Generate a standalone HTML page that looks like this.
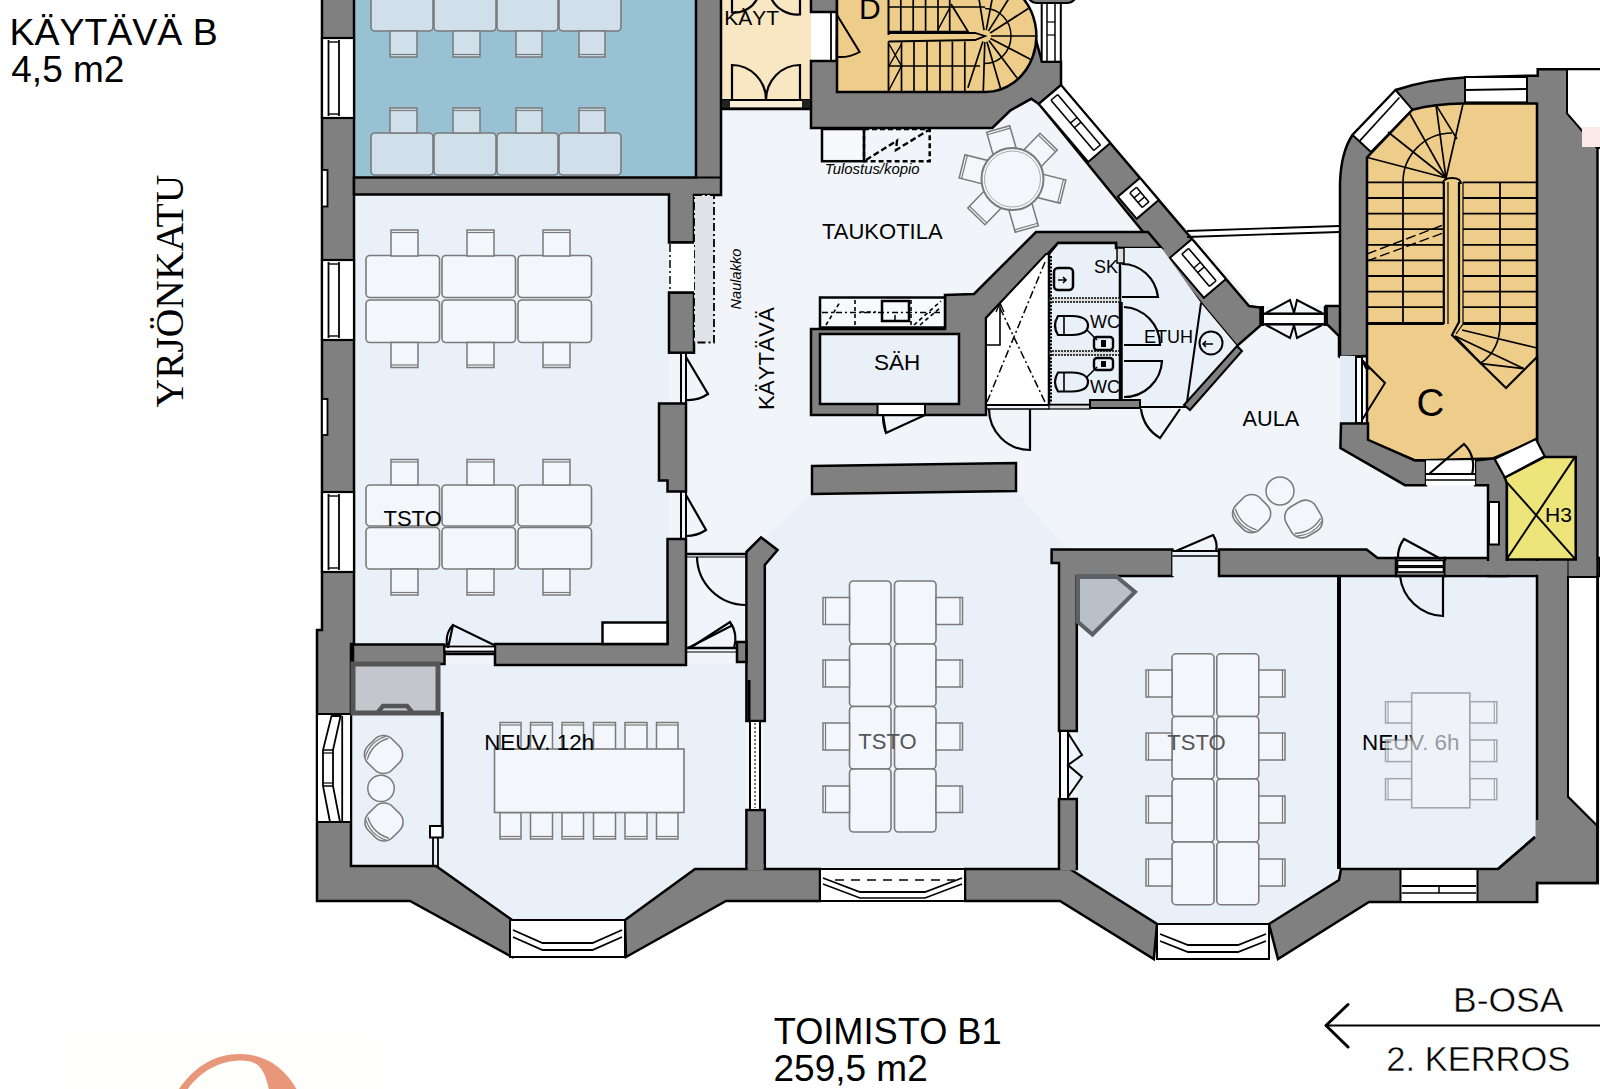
<!DOCTYPE html>
<html><head><meta charset="utf-8"><style>html,body{margin:0;padding:0;background:#fff;width:1600px;height:1089px;overflow:hidden}svg{display:block}</style></head>
<body><svg width="1600" height="1089" viewBox="0 0 1600 1089">
<polygon points="354.0,0.0 1061.0,0.0 1061.0,85.0 1256.0,306.0 1340.0,306.0 1340.0,448.0 1405.0,485.0 1488.0,485.0 1488.0,576.0 1600.0,576.0 1600.0,883.0 1537.0,883.0 1537.0,902.0 1369.0,902.0 1278.0,959.0 1153.0,959.0 1060.0,901.0 726.0,901.0 626.0,957.0 510.0,957.0 410.0,901.0 317.0,901.0 317.0,630.0 322.0,630.0 322.0,0.0" fill="#f1f5fa" stroke="none" stroke-width="0" stroke-linejoin="miter" />
<rect x="354.0" y="0.0" width="342.0" height="177.5" rx="0" fill="#99c1d4" stroke="none" stroke-width="0" />
<defs><linearGradient id="kg" x1="0" x2="1" y1="0" y2="0"><stop offset="0" stop-color="#f6dcaa"/><stop offset="1" stop-color="#fbecd3"/></linearGradient></defs>
<rect x="721.0" y="0.0" width="90.0" height="108.0" rx="0" fill="#f9e6c3" stroke="none" stroke-width="0" />
<rect x="354.0" y="194.0" width="315.0" height="450.0" rx="0" fill="#e9f0f8" stroke="none" stroke-width="0" />
<polygon points="351.0,664.0 685.0,664.0 746.0,664.0 746.0,869.0 695.0,869.0 625.0,920.0 510.0,920.0 436.0,866.0 351.0,866.0" fill="#e9f0f8" stroke="none" stroke-width="0" stroke-linejoin="miter" />
<polygon points="812.0,494.0 1016.0,491.0 1066.0,548.0 1060.0,548.0 1060.0,869.0 764.0,869.0 764.0,538.0" fill="#e9f0f8" stroke="none" stroke-width="0" stroke-linejoin="miter" />
<polygon points="1077.0,575.0 1337.0,575.0 1337.0,880.0 1269.0,924.0 1157.0,924.0 1070.0,869.0 1077.0,869.0" fill="#e9f0f8" stroke="none" stroke-width="0" stroke-linejoin="miter" />
<polygon points="1341.0,575.0 1535.0,575.0 1535.0,837.0 1498.0,869.0 1341.0,869.0" fill="#e9f0f8" stroke="none" stroke-width="0" stroke-linejoin="miter" />
<rect x="371.0" y="-12.0" width="62.0" height="43.0" rx="4" fill="#cfe0ea" stroke="#7a7a7a" stroke-width="1.6" />
<rect x="371.0" y="133.0" width="62.0" height="42.0" rx="4" fill="#cfe0ea" stroke="#7a7a7a" stroke-width="1.6" />
<rect x="434.0" y="-12.0" width="62.0" height="43.0" rx="4" fill="#cfe0ea" stroke="#7a7a7a" stroke-width="1.6" />
<rect x="434.0" y="133.0" width="62.0" height="42.0" rx="4" fill="#cfe0ea" stroke="#7a7a7a" stroke-width="1.6" />
<rect x="497.0" y="-12.0" width="61.0" height="43.0" rx="4" fill="#cfe0ea" stroke="#7a7a7a" stroke-width="1.6" />
<rect x="497.0" y="133.0" width="61.0" height="42.0" rx="4" fill="#cfe0ea" stroke="#7a7a7a" stroke-width="1.6" />
<rect x="559.0" y="-12.0" width="62.0" height="43.0" rx="4" fill="#cfe0ea" stroke="#7a7a7a" stroke-width="1.6" />
<rect x="559.0" y="133.0" width="62.0" height="42.0" rx="4" fill="#cfe0ea" stroke="#7a7a7a" stroke-width="1.6" />
<rect x="390.0" y="31.0" width="27.0" height="26.0" rx="0" fill="#cfe0ea" stroke="#7a7a7a" stroke-width="1.5" />
<line x1="390.0" y1="54.5" x2="417.0" y2="54.5" stroke="#7a7a7a" stroke-width="1.2" />
<rect x="390.0" y="108.0" width="27.0" height="25.0" rx="0" fill="#cfe0ea" stroke="#7a7a7a" stroke-width="1.5" />
<line x1="390.0" y1="110.5" x2="417.0" y2="110.5" stroke="#7a7a7a" stroke-width="1.2" />
<rect x="453.0" y="31.0" width="27.0" height="26.0" rx="0" fill="#cfe0ea" stroke="#7a7a7a" stroke-width="1.5" />
<line x1="453.0" y1="54.5" x2="480.0" y2="54.5" stroke="#7a7a7a" stroke-width="1.2" />
<rect x="453.0" y="108.0" width="27.0" height="25.0" rx="0" fill="#cfe0ea" stroke="#7a7a7a" stroke-width="1.5" />
<line x1="453.0" y1="110.5" x2="480.0" y2="110.5" stroke="#7a7a7a" stroke-width="1.2" />
<rect x="516.0" y="31.0" width="26.0" height="26.0" rx="0" fill="#cfe0ea" stroke="#7a7a7a" stroke-width="1.5" />
<line x1="516.0" y1="54.5" x2="542.0" y2="54.5" stroke="#7a7a7a" stroke-width="1.2" />
<rect x="516.0" y="108.0" width="26.0" height="25.0" rx="0" fill="#cfe0ea" stroke="#7a7a7a" stroke-width="1.5" />
<line x1="516.0" y1="110.5" x2="542.0" y2="110.5" stroke="#7a7a7a" stroke-width="1.2" />
<rect x="579.0" y="31.0" width="26.0" height="26.0" rx="0" fill="#cfe0ea" stroke="#7a7a7a" stroke-width="1.5" />
<line x1="579.0" y1="54.5" x2="605.0" y2="54.5" stroke="#7a7a7a" stroke-width="1.2" />
<rect x="579.0" y="108.0" width="26.0" height="25.0" rx="0" fill="#cfe0ea" stroke="#7a7a7a" stroke-width="1.5" />
<line x1="579.0" y1="110.5" x2="605.0" y2="110.5" stroke="#7a7a7a" stroke-width="1.2" />
<rect x="366.0" y="255.5" width="73.5" height="42.0" rx="4" fill="#f3f6fb" stroke="#7a7a7a" stroke-width="1.6" />
<rect x="442.0" y="255.5" width="73.5" height="42.0" rx="4" fill="#f3f6fb" stroke="#7a7a7a" stroke-width="1.6" />
<rect x="518.0" y="255.5" width="73.5" height="42.0" rx="4" fill="#f3f6fb" stroke="#7a7a7a" stroke-width="1.6" />
<rect x="366.0" y="300.0" width="73.5" height="42.5" rx="4" fill="#f3f6fb" stroke="#7a7a7a" stroke-width="1.6" />
<rect x="442.0" y="300.0" width="73.5" height="42.5" rx="4" fill="#f3f6fb" stroke="#7a7a7a" stroke-width="1.6" />
<rect x="518.0" y="300.0" width="73.5" height="42.5" rx="4" fill="#f3f6fb" stroke="#7a7a7a" stroke-width="1.6" />
<rect x="366.0" y="485.0" width="73.5" height="41.0" rx="4" fill="#f3f6fb" stroke="#7a7a7a" stroke-width="1.6" />
<rect x="442.0" y="485.0" width="73.5" height="41.0" rx="4" fill="#f3f6fb" stroke="#7a7a7a" stroke-width="1.6" />
<rect x="518.0" y="485.0" width="73.5" height="41.0" rx="4" fill="#f3f6fb" stroke="#7a7a7a" stroke-width="1.6" />
<rect x="366.0" y="527.5" width="73.5" height="41.5" rx="4" fill="#f3f6fb" stroke="#7a7a7a" stroke-width="1.6" />
<rect x="442.0" y="527.5" width="73.5" height="41.5" rx="4" fill="#f3f6fb" stroke="#7a7a7a" stroke-width="1.6" />
<rect x="518.0" y="527.5" width="73.5" height="41.5" rx="4" fill="#f3f6fb" stroke="#7a7a7a" stroke-width="1.6" />
<rect x="391.0" y="230.0" width="27.0" height="26.0" rx="0" fill="#f3f6fb" stroke="#7a7a7a" stroke-width="1.5" />
<line x1="391.0" y1="232.5" x2="418.0" y2="232.5" stroke="#7a7a7a" stroke-width="1.2" />
<rect x="391.0" y="342.5" width="27.0" height="25.0" rx="0" fill="#f3f6fb" stroke="#7a7a7a" stroke-width="1.5" />
<line x1="391.0" y1="365.0" x2="418.0" y2="365.0" stroke="#7a7a7a" stroke-width="1.2" />
<rect x="391.0" y="459.5" width="27.0" height="25.5" rx="0" fill="#f3f6fb" stroke="#7a7a7a" stroke-width="1.5" />
<line x1="391.0" y1="462.0" x2="418.0" y2="462.0" stroke="#7a7a7a" stroke-width="1.2" />
<rect x="391.0" y="569.0" width="27.0" height="26.0" rx="0" fill="#f3f6fb" stroke="#7a7a7a" stroke-width="1.5" />
<line x1="391.0" y1="592.5" x2="418.0" y2="592.5" stroke="#7a7a7a" stroke-width="1.2" />
<rect x="467.0" y="230.0" width="27.0" height="26.0" rx="0" fill="#f3f6fb" stroke="#7a7a7a" stroke-width="1.5" />
<line x1="467.0" y1="232.5" x2="494.0" y2="232.5" stroke="#7a7a7a" stroke-width="1.2" />
<rect x="467.0" y="342.5" width="27.0" height="25.0" rx="0" fill="#f3f6fb" stroke="#7a7a7a" stroke-width="1.5" />
<line x1="467.0" y1="365.0" x2="494.0" y2="365.0" stroke="#7a7a7a" stroke-width="1.2" />
<rect x="467.0" y="459.5" width="27.0" height="25.5" rx="0" fill="#f3f6fb" stroke="#7a7a7a" stroke-width="1.5" />
<line x1="467.0" y1="462.0" x2="494.0" y2="462.0" stroke="#7a7a7a" stroke-width="1.2" />
<rect x="467.0" y="569.0" width="27.0" height="26.0" rx="0" fill="#f3f6fb" stroke="#7a7a7a" stroke-width="1.5" />
<line x1="467.0" y1="592.5" x2="494.0" y2="592.5" stroke="#7a7a7a" stroke-width="1.2" />
<rect x="543.0" y="230.0" width="27.0" height="26.0" rx="0" fill="#f3f6fb" stroke="#7a7a7a" stroke-width="1.5" />
<line x1="543.0" y1="232.5" x2="570.0" y2="232.5" stroke="#7a7a7a" stroke-width="1.2" />
<rect x="543.0" y="342.5" width="27.0" height="25.0" rx="0" fill="#f3f6fb" stroke="#7a7a7a" stroke-width="1.5" />
<line x1="543.0" y1="365.0" x2="570.0" y2="365.0" stroke="#7a7a7a" stroke-width="1.2" />
<rect x="543.0" y="459.5" width="27.0" height="25.5" rx="0" fill="#f3f6fb" stroke="#7a7a7a" stroke-width="1.5" />
<line x1="543.0" y1="462.0" x2="570.0" y2="462.0" stroke="#7a7a7a" stroke-width="1.2" />
<rect x="543.0" y="569.0" width="27.0" height="26.0" rx="0" fill="#f3f6fb" stroke="#7a7a7a" stroke-width="1.5" />
<line x1="543.0" y1="592.5" x2="570.0" y2="592.5" stroke="#7a7a7a" stroke-width="1.2" />
<rect x="500.0" y="722.5" width="21.0" height="27.5" rx="0" fill="#f3f6fb" stroke="#7a7a7a" stroke-width="1.5" />
<line x1="500.0" y1="725.0" x2="521.0" y2="725.0" stroke="#7a7a7a" stroke-width="1.2" />
<rect x="500.0" y="812.5" width="21.0" height="26.5" rx="0" fill="#f3f6fb" stroke="#7a7a7a" stroke-width="1.5" />
<line x1="500.0" y1="836.5" x2="521.0" y2="836.5" stroke="#7a7a7a" stroke-width="1.2" />
<rect x="530.5" y="722.5" width="22.0" height="27.5" rx="0" fill="#f3f6fb" stroke="#7a7a7a" stroke-width="1.5" />
<line x1="530.5" y1="725.0" x2="552.5" y2="725.0" stroke="#7a7a7a" stroke-width="1.2" />
<rect x="530.5" y="812.5" width="22.0" height="26.5" rx="0" fill="#f3f6fb" stroke="#7a7a7a" stroke-width="1.5" />
<line x1="530.5" y1="836.5" x2="552.5" y2="836.5" stroke="#7a7a7a" stroke-width="1.2" />
<rect x="562.0" y="722.5" width="21.5" height="27.5" rx="0" fill="#f3f6fb" stroke="#7a7a7a" stroke-width="1.5" />
<line x1="562.0" y1="725.0" x2="583.5" y2="725.0" stroke="#7a7a7a" stroke-width="1.2" />
<rect x="562.0" y="812.5" width="21.5" height="26.5" rx="0" fill="#f3f6fb" stroke="#7a7a7a" stroke-width="1.5" />
<line x1="562.0" y1="836.5" x2="583.5" y2="836.5" stroke="#7a7a7a" stroke-width="1.2" />
<rect x="593.5" y="722.5" width="22.0" height="27.5" rx="0" fill="#f3f6fb" stroke="#7a7a7a" stroke-width="1.5" />
<line x1="593.5" y1="725.0" x2="615.5" y2="725.0" stroke="#7a7a7a" stroke-width="1.2" />
<rect x="593.5" y="812.5" width="22.0" height="26.5" rx="0" fill="#f3f6fb" stroke="#7a7a7a" stroke-width="1.5" />
<line x1="593.5" y1="836.5" x2="615.5" y2="836.5" stroke="#7a7a7a" stroke-width="1.2" />
<rect x="625.0" y="722.5" width="22.0" height="27.5" rx="0" fill="#f3f6fb" stroke="#7a7a7a" stroke-width="1.5" />
<line x1="625.0" y1="725.0" x2="647.0" y2="725.0" stroke="#7a7a7a" stroke-width="1.2" />
<rect x="625.0" y="812.5" width="22.0" height="26.5" rx="0" fill="#f3f6fb" stroke="#7a7a7a" stroke-width="1.5" />
<line x1="625.0" y1="836.5" x2="647.0" y2="836.5" stroke="#7a7a7a" stroke-width="1.2" />
<rect x="656.5" y="722.5" width="21.5" height="27.5" rx="0" fill="#f3f6fb" stroke="#7a7a7a" stroke-width="1.5" />
<line x1="656.5" y1="725.0" x2="678.0" y2="725.0" stroke="#7a7a7a" stroke-width="1.2" />
<rect x="656.5" y="812.5" width="21.5" height="26.5" rx="0" fill="#f3f6fb" stroke="#7a7a7a" stroke-width="1.5" />
<line x1="656.5" y1="836.5" x2="678.0" y2="836.5" stroke="#7a7a7a" stroke-width="1.2" />
<rect x="849.5" y="581.0" width="41.5" height="63.0" rx="4" fill="#f3f6fb" stroke="#7a7a7a" stroke-width="1.6" />
<rect x="894.5" y="581.0" width="41.5" height="63.0" rx="4" fill="#f3f6fb" stroke="#7a7a7a" stroke-width="1.6" />
<rect x="849.5" y="644.0" width="41.5" height="62.5" rx="4" fill="#f3f6fb" stroke="#7a7a7a" stroke-width="1.6" />
<rect x="894.5" y="644.0" width="41.5" height="62.5" rx="4" fill="#f3f6fb" stroke="#7a7a7a" stroke-width="1.6" />
<rect x="849.5" y="706.5" width="41.5" height="62.5" rx="4" fill="#f3f6fb" stroke="#7a7a7a" stroke-width="1.6" />
<rect x="894.5" y="706.5" width="41.5" height="62.5" rx="4" fill="#f3f6fb" stroke="#7a7a7a" stroke-width="1.6" />
<rect x="849.5" y="769.0" width="41.5" height="63.0" rx="4" fill="#f3f6fb" stroke="#7a7a7a" stroke-width="1.6" />
<rect x="894.5" y="769.0" width="41.5" height="63.0" rx="4" fill="#f3f6fb" stroke="#7a7a7a" stroke-width="1.6" />
<rect x="823.0" y="597.5" width="26.5" height="27.0" rx="0" fill="#f3f6fb" stroke="#7a7a7a" stroke-width="1.5" />
<line x1="825.5" y1="597.5" x2="825.5" y2="624.5" stroke="#7a7a7a" stroke-width="1.2" />
<rect x="936.0" y="597.5" width="26.5" height="27.0" rx="0" fill="#f3f6fb" stroke="#7a7a7a" stroke-width="1.5" />
<line x1="960.0" y1="597.5" x2="960.0" y2="624.5" stroke="#7a7a7a" stroke-width="1.2" />
<rect x="823.0" y="660.0" width="26.5" height="27.0" rx="0" fill="#f3f6fb" stroke="#7a7a7a" stroke-width="1.5" />
<line x1="825.5" y1="660.0" x2="825.5" y2="687.0" stroke="#7a7a7a" stroke-width="1.2" />
<rect x="936.0" y="660.0" width="26.5" height="27.0" rx="0" fill="#f3f6fb" stroke="#7a7a7a" stroke-width="1.5" />
<line x1="960.0" y1="660.0" x2="960.0" y2="687.0" stroke="#7a7a7a" stroke-width="1.2" />
<rect x="823.0" y="723.0" width="26.5" height="27.0" rx="0" fill="#f3f6fb" stroke="#7a7a7a" stroke-width="1.5" />
<line x1="825.5" y1="723.0" x2="825.5" y2="750.0" stroke="#7a7a7a" stroke-width="1.2" />
<rect x="936.0" y="723.0" width="26.5" height="27.0" rx="0" fill="#f3f6fb" stroke="#7a7a7a" stroke-width="1.5" />
<line x1="960.0" y1="723.0" x2="960.0" y2="750.0" stroke="#7a7a7a" stroke-width="1.2" />
<rect x="823.0" y="786.0" width="26.5" height="26.5" rx="0" fill="#f3f6fb" stroke="#7a7a7a" stroke-width="1.5" />
<line x1="825.5" y1="786.0" x2="825.5" y2="812.5" stroke="#7a7a7a" stroke-width="1.2" />
<rect x="936.0" y="786.0" width="26.5" height="26.5" rx="0" fill="#f3f6fb" stroke="#7a7a7a" stroke-width="1.5" />
<line x1="960.0" y1="786.0" x2="960.0" y2="812.5" stroke="#7a7a7a" stroke-width="1.2" />
<rect x="1172.0" y="653.8" width="42.0" height="62.8" rx="4" fill="#f3f6fb" stroke="#7a7a7a" stroke-width="1.6" />
<rect x="1216.8" y="653.8" width="42.0" height="62.8" rx="4" fill="#f3f6fb" stroke="#7a7a7a" stroke-width="1.6" />
<rect x="1172.0" y="716.5" width="42.0" height="62.5" rx="4" fill="#f3f6fb" stroke="#7a7a7a" stroke-width="1.6" />
<rect x="1216.8" y="716.5" width="42.0" height="62.5" rx="4" fill="#f3f6fb" stroke="#7a7a7a" stroke-width="1.6" />
<rect x="1172.0" y="779.0" width="42.0" height="63.0" rx="4" fill="#f3f6fb" stroke="#7a7a7a" stroke-width="1.6" />
<rect x="1216.8" y="779.0" width="42.0" height="63.0" rx="4" fill="#f3f6fb" stroke="#7a7a7a" stroke-width="1.6" />
<rect x="1172.0" y="842.0" width="42.0" height="62.7" rx="4" fill="#f3f6fb" stroke="#7a7a7a" stroke-width="1.6" />
<rect x="1216.8" y="842.0" width="42.0" height="62.7" rx="4" fill="#f3f6fb" stroke="#7a7a7a" stroke-width="1.6" />
<rect x="1146.0" y="670.0" width="26.0" height="27.0" rx="0" fill="#f3f6fb" stroke="#7a7a7a" stroke-width="1.5" />
<line x1="1148.5" y1="670.0" x2="1148.5" y2="697.0" stroke="#7a7a7a" stroke-width="1.2" />
<rect x="1258.8" y="670.0" width="26.2" height="27.0" rx="0" fill="#f3f6fb" stroke="#7a7a7a" stroke-width="1.5" />
<line x1="1282.5" y1="670.0" x2="1282.5" y2="697.0" stroke="#7a7a7a" stroke-width="1.2" />
<rect x="1146.0" y="733.0" width="26.0" height="27.0" rx="0" fill="#f3f6fb" stroke="#7a7a7a" stroke-width="1.5" />
<line x1="1148.5" y1="733.0" x2="1148.5" y2="760.0" stroke="#7a7a7a" stroke-width="1.2" />
<rect x="1258.8" y="733.0" width="26.2" height="27.0" rx="0" fill="#f3f6fb" stroke="#7a7a7a" stroke-width="1.5" />
<line x1="1282.5" y1="733.0" x2="1282.5" y2="760.0" stroke="#7a7a7a" stroke-width="1.2" />
<rect x="1146.0" y="796.0" width="26.0" height="27.0" rx="0" fill="#f3f6fb" stroke="#7a7a7a" stroke-width="1.5" />
<line x1="1148.5" y1="796.0" x2="1148.5" y2="823.0" stroke="#7a7a7a" stroke-width="1.2" />
<rect x="1258.8" y="796.0" width="26.2" height="27.0" rx="0" fill="#f3f6fb" stroke="#7a7a7a" stroke-width="1.5" />
<line x1="1282.5" y1="796.0" x2="1282.5" y2="823.0" stroke="#7a7a7a" stroke-width="1.2" />
<rect x="1146.0" y="859.0" width="26.0" height="27.0" rx="0" fill="#f3f6fb" stroke="#7a7a7a" stroke-width="1.5" />
<line x1="1148.5" y1="859.0" x2="1148.5" y2="886.0" stroke="#7a7a7a" stroke-width="1.2" />
<rect x="1258.8" y="859.0" width="26.2" height="27.0" rx="0" fill="#f3f6fb" stroke="#7a7a7a" stroke-width="1.5" />
<line x1="1282.5" y1="859.0" x2="1282.5" y2="886.0" stroke="#7a7a7a" stroke-width="1.2" />
<text x="1362" y="750" font-family="Liberation Sans" font-size="22.4" fill="#000" >NEUV. 6h</text>
<g opacity="0.62">
<rect x="1385.5" y="701.7" width="26.2" height="21.3" rx="0" fill="#f3f6fb" stroke="#7a7a7a" stroke-width="1.5" />
<line x1="1388.0" y1="701.7" x2="1388.0" y2="723.0" stroke="#7a7a7a" stroke-width="1.2" />
<rect x="1469.8" y="701.7" width="27.0" height="21.3" rx="0" fill="#f3f6fb" stroke="#7a7a7a" stroke-width="1.5" />
<line x1="1494.3" y1="701.7" x2="1494.3" y2="723.0" stroke="#7a7a7a" stroke-width="1.2" />
<rect x="1385.5" y="740.0" width="26.2" height="21.6" rx="0" fill="#f3f6fb" stroke="#7a7a7a" stroke-width="1.5" />
<line x1="1388.0" y1="740.0" x2="1388.0" y2="761.6" stroke="#7a7a7a" stroke-width="1.2" />
<rect x="1469.8" y="740.0" width="27.0" height="21.6" rx="0" fill="#f3f6fb" stroke="#7a7a7a" stroke-width="1.5" />
<line x1="1494.3" y1="740.0" x2="1494.3" y2="761.6" stroke="#7a7a7a" stroke-width="1.2" />
<rect x="1385.5" y="778.7" width="26.2" height="21.0" rx="0" fill="#f3f6fb" stroke="#7a7a7a" stroke-width="1.5" />
<line x1="1388.0" y1="778.7" x2="1388.0" y2="799.7" stroke="#7a7a7a" stroke-width="1.2" />
<rect x="1469.8" y="778.7" width="27.0" height="21.0" rx="0" fill="#f3f6fb" stroke="#7a7a7a" stroke-width="1.5" />
<line x1="1494.3" y1="778.7" x2="1494.3" y2="799.7" stroke="#7a7a7a" stroke-width="1.2" />
<rect x="1411.7" y="693.0" width="58.1" height="114.8" rx="0" fill="#f3f6fb" stroke="#7a7a7a" stroke-width="1.6" />
</g>
<text x="858.3" y="749" font-family="Liberation Sans" font-size="22" fill="#555" >TSTO</text>
<text x="1167.3" y="750" font-family="Liberation Sans" font-size="22" fill="#555" >TSTO</text>
<rect x="494.5" y="749.0" width="189.5" height="63.5" rx="0" fill="#f3f6fb" stroke="#7a7a7a" stroke-width="1.6" />
<g transform="translate(1012.5,179) rotate(14)"><rect x="29" y="-12" width="23" height="24" fill="#f3f6fb" stroke="#7a7a7a" stroke-width="1.5"/><line x1="49.5" y1="-12" x2="49.5" y2="12" stroke="#7a7a7a" stroke-width="1.2"/></g>
<g transform="translate(1012.5,179) rotate(74)"><rect x="29" y="-12" width="23" height="24" fill="#f3f6fb" stroke="#7a7a7a" stroke-width="1.5"/><line x1="49.5" y1="-12" x2="49.5" y2="12" stroke="#7a7a7a" stroke-width="1.2"/></g>
<g transform="translate(1012.5,179) rotate(134)"><rect x="29" y="-12" width="23" height="24" fill="#f3f6fb" stroke="#7a7a7a" stroke-width="1.5"/><line x1="49.5" y1="-12" x2="49.5" y2="12" stroke="#7a7a7a" stroke-width="1.2"/></g>
<g transform="translate(1012.5,179) rotate(194)"><rect x="29" y="-12" width="23" height="24" fill="#f3f6fb" stroke="#7a7a7a" stroke-width="1.5"/><line x1="49.5" y1="-12" x2="49.5" y2="12" stroke="#7a7a7a" stroke-width="1.2"/></g>
<g transform="translate(1012.5,179) rotate(254)"><rect x="29" y="-12" width="23" height="24" fill="#f3f6fb" stroke="#7a7a7a" stroke-width="1.5"/><line x1="49.5" y1="-12" x2="49.5" y2="12" stroke="#7a7a7a" stroke-width="1.2"/></g>
<g transform="translate(1012.5,179) rotate(314)"><rect x="29" y="-12" width="23" height="24" fill="#f3f6fb" stroke="#7a7a7a" stroke-width="1.5"/><line x1="49.5" y1="-12" x2="49.5" y2="12" stroke="#7a7a7a" stroke-width="1.2"/></g>
<circle cx="1012.5" cy="179" r="31" fill="#f3f6fb" stroke="#7a7a7a" stroke-width="2"/>
<circle cx="1012.5" cy="179" r="28" fill="none" stroke="#aaa" stroke-width="1"/>
<g transform="translate(383.5,754.5) rotate(135)"><rect x="-17" y="-17" width="34" height="34" rx="12" fill="#f3f6fb" stroke="#7a7a7a" stroke-width="1.6"/><path d="M-15,8 Q0,16 15,8" fill="none" stroke="#7a7a7a" stroke-width="1.4"/><path d="M-15,11 Q0,19 15,11" fill="none" stroke="#7a7a7a" stroke-width="1.2"/></g>
<g transform="translate(384,822) rotate(45)"><rect x="-17" y="-17" width="34" height="34" rx="12" fill="#f3f6fb" stroke="#7a7a7a" stroke-width="1.6"/><path d="M-15,8 Q0,16 15,8" fill="none" stroke="#7a7a7a" stroke-width="1.4"/><path d="M-15,11 Q0,19 15,11" fill="none" stroke="#7a7a7a" stroke-width="1.2"/></g>
<circle cx="381" cy="788.4" r="13.2" fill="#f3f6fb" stroke="#7a7a7a" stroke-width="1.5"/>
<g transform="translate(1251.6,513.6) rotate(45)"><rect x="-17" y="-17" width="34" height="34" rx="12" fill="#f3f6fb" stroke="#7a7a7a" stroke-width="1.6"/><path d="M-15,8 Q0,16 15,8" fill="none" stroke="#7a7a7a" stroke-width="1.4"/><path d="M-15,11 Q0,19 15,11" fill="none" stroke="#7a7a7a" stroke-width="1.2"/></g>
<g transform="translate(1303.6,519) rotate(-30)"><rect x="-17" y="-17" width="34" height="34" rx="12" fill="#f3f6fb" stroke="#7a7a7a" stroke-width="1.6"/><path d="M-15,8 Q0,16 15,8" fill="none" stroke="#7a7a7a" stroke-width="1.4"/><path d="M-15,11 Q0,19 15,11" fill="none" stroke="#7a7a7a" stroke-width="1.2"/></g>
<circle cx="1280" cy="491" r="14" fill="#f3f6fb" stroke="#7a7a7a" stroke-width="1.5"/>
<polygon points="322.0,-5.0 354.0,-5.0 354.0,644.0 351.0,644.0 351.0,866.0 436.0,866.0 512.0,920.0 512.0,957.0 410.0,901.0 317.0,901.0 317.0,630.0 322.0,630.0" fill="#808080" stroke="#000" stroke-width="2.5" stroke-linejoin="miter" />
<rect x="322.0" y="38.0" width="32.0" height="80.0" rx="0" fill="#fff" stroke="#000" stroke-width="2.2" />
<line x1="328.5" y1="40.0" x2="328.5" y2="116.0" stroke="#000" stroke-width="1.8" />
<line x1="339.0" y1="40.0" x2="339.0" y2="116.0" stroke="#000" stroke-width="1.8" />
<line x1="328.5" y1="42.0" x2="339.0" y2="42.0" stroke="#000" stroke-width="1.4" />
<line x1="328.5" y1="114.0" x2="339.0" y2="114.0" stroke="#000" stroke-width="1.4" />
<rect x="322.0" y="260.0" width="32.0" height="80.0" rx="0" fill="#fff" stroke="#000" stroke-width="2.2" />
<line x1="328.5" y1="262.0" x2="328.5" y2="338.0" stroke="#000" stroke-width="1.8" />
<line x1="339.0" y1="262.0" x2="339.0" y2="338.0" stroke="#000" stroke-width="1.8" />
<line x1="328.5" y1="264.0" x2="339.0" y2="264.0" stroke="#000" stroke-width="1.4" />
<line x1="328.5" y1="336.0" x2="339.0" y2="336.0" stroke="#000" stroke-width="1.4" />
<rect x="322.0" y="492.0" width="32.0" height="80.0" rx="0" fill="#fff" stroke="#000" stroke-width="2.2" />
<line x1="328.5" y1="494.0" x2="328.5" y2="570.0" stroke="#000" stroke-width="1.8" />
<line x1="339.0" y1="494.0" x2="339.0" y2="570.0" stroke="#000" stroke-width="1.8" />
<line x1="328.5" y1="496.0" x2="339.0" y2="496.0" stroke="#000" stroke-width="1.4" />
<line x1="328.5" y1="568.0" x2="339.0" y2="568.0" stroke="#000" stroke-width="1.4" />
<rect x="322.0" y="170.0" width="5.5" height="36.5" rx="0" fill="#fff" stroke="#000" stroke-width="1.8" />
<rect x="322.0" y="399.0" width="5.5" height="36.0" rx="0" fill="#fff" stroke="#000" stroke-width="1.8" />
<rect x="317.0" y="714.0" width="34.0" height="108.0" rx="0" fill="#fff" stroke="#000" stroke-width="2" />
<polygon points="331.5,716.0 323.0,750.0 323.0,786.0 330.0,822.0 340.0,822.0 333.0,786.0 333.0,750.0 340.6,716.0" fill="#fff" stroke="#000" stroke-width="1.8" stroke-linejoin="miter" />
<line x1="323.0" y1="750.0" x2="333.0" y2="750.0" stroke="#000" stroke-width="1.5" />
<line x1="323.0" y1="753.0" x2="333.0" y2="753.0" stroke="#000" stroke-width="1.2" />
<line x1="323.0" y1="786.0" x2="333.0" y2="786.0" stroke="#000" stroke-width="1.5" />
<line x1="323.0" y1="783.0" x2="333.0" y2="783.0" stroke="#000" stroke-width="1.2" />
<line x1="342.2" y1="716.0" x2="342.2" y2="822.0" stroke="#000" stroke-width="1.8" />
<polygon points="354.0,177.5 696.0,177.5 696.0,-5.0 721.0,-5.0 721.0,195.0 694.0,195.0 694.0,242.5 669.0,242.5 669.0,194.5 354.0,194.5" fill="#808080" stroke="#000" stroke-width="2.5" stroke-linejoin="miter" />
<line x1="696.0" y1="177.5" x2="721.0" y2="177.5" stroke="#000" stroke-width="2" />
<rect x="669.0" y="292.5" width="25.0" height="60.2" rx="0" fill="#808080" stroke="#000" stroke-width="2.5" />
<polygon points="659.0,403.4 686.0,403.4 686.0,491.5 667.5,491.5 667.5,480.5 659.0,480.5" fill="#808080" stroke="#000" stroke-width="2.5" stroke-linejoin="miter" />
<polygon points="667.5,539.0 686.0,539.0 686.0,665.0 495.0,665.0 495.0,644.0 667.5,644.0" fill="#808080" stroke="#000" stroke-width="2.5" stroke-linejoin="miter" />
<rect x="353.0" y="644.5" width="91.5" height="19.5" rx="0" fill="#808080" stroke="#000" stroke-width="2.5" />
<rect x="602.5" y="622.5" width="65.0" height="21.5" rx="0" fill="#fff" stroke="#000" stroke-width="2.5" />
<rect x="353.0" y="664.0" width="85.0" height="49.0" rx="0" fill="#c3c7cd" stroke="#555" stroke-width="5" />
<path d="M378,712 L383,706 L407,706 L412,712" fill="none" stroke="#555" stroke-width="4.5" />
<rect x="811.0" y="12.0" width="20.0" height="49.0" rx="0" fill="#fff" stroke="none" stroke-width="0" />
<rect x="831.0" y="12.0" width="5.5" height="49.0" rx="0" fill="#fff" stroke="#000" stroke-width="1.8" />
<rect x="811.0" y="-5.0" width="26.0" height="17.0" rx="0" fill="#808080" stroke="#000" stroke-width="2.5" />
<rect x="1015.0" y="-5.0" width="27.0" height="67.0" rx="0" fill="#fff" stroke="none" stroke-width="0" />
<polygon points="811.0,61.0 837.0,61.0 837.0,40.0 1036.0,40.0 1042.0,61.7 1061.0,61.7 1061.0,85.2 1038.9,104.0 1031.2,98.8 1010.5,110.3 992.3,128.0 811.0,128.0" fill="#808080" stroke="#000" stroke-width="2.5" stroke-linejoin="miter" />
<path d="M837,-5 L837,92 L985.4,92 A51,56 0 0 0 1020.1,-5 Z" fill="#eecd8a" stroke="#000" stroke-width="2.5" />
<path d="M837,15 L859.6,52 A40,40 0 0 1 837,57" fill="none" stroke="#000" stroke-width="2" />
<line x1="888.5" y1="-5.0" x2="888.5" y2="35.0" stroke="#000" stroke-width="2" />
<line x1="900.8" y1="-5.0" x2="900.8" y2="31.6" stroke="#000" stroke-width="1.7" />
<line x1="913.2" y1="-5.0" x2="913.2" y2="31.6" stroke="#000" stroke-width="1.7" />
<line x1="925.6" y1="-5.0" x2="925.6" y2="31.6" stroke="#000" stroke-width="1.7" />
<line x1="938.0" y1="-5.0" x2="938.0" y2="31.6" stroke="#000" stroke-width="1.7" />
<line x1="949.7" y1="-5.0" x2="949.7" y2="31.6" stroke="#000" stroke-width="1.7" />
<line x1="888.5" y1="6.9" x2="985.0" y2="6.9" stroke="#000" stroke-width="1.5" />
<line x1="949.7" y1="8.0" x2="938.0" y2="29.6" stroke="#000" stroke-width="1.5" />
<path d="M888.5,33 L975,33 L985,36 L975,40 L888.5,41.5" fill="none" stroke="#000" stroke-width="1.8" />
<path d="M888.5,31.6 L968,31.6 L951,4" fill="none" stroke="#000" stroke-width="1.8" />
<line x1="888.5" y1="41.5" x2="888.5" y2="92.0" stroke="#000" stroke-width="1.8" />
<line x1="901.5" y1="41.5" x2="901.5" y2="92.0" stroke="#000" stroke-width="1.7" />
<line x1="914.0" y1="41.5" x2="914.0" y2="92.0" stroke="#000" stroke-width="1.7" />
<line x1="927.0" y1="41.5" x2="927.0" y2="92.0" stroke="#000" stroke-width="1.7" />
<line x1="940.0" y1="41.5" x2="940.0" y2="92.0" stroke="#000" stroke-width="1.7" />
<line x1="952.4" y1="41.5" x2="952.4" y2="92.0" stroke="#000" stroke-width="1.7" />
<line x1="964.8" y1="41.5" x2="964.8" y2="92.0" stroke="#000" stroke-width="1.7" />
<line x1="888.5" y1="66.0" x2="980.0" y2="66.0" stroke="#000" stroke-width="1.6" />
<path d="M889,44 L901.5,66 L889,90 M901.5,44 L889,66" fill="none" stroke="#000" stroke-width="1.5" />
<line x1="984.0" y1="30.1" x2="976.3" y2="-18.2" stroke="#000" stroke-width="1.7" />
<line x1="986.2" y1="30.1" x2="995.4" y2="-17.8" stroke="#000" stroke-width="1.7" />
<line x1="988.4" y1="31.1" x2="1013.7" y2="-9.1" stroke="#000" stroke-width="1.7" />
<line x1="990.2" y1="33.0" x2="1028.3" y2="8.5" stroke="#000" stroke-width="1.7" />
<line x1="991.0" y1="36.0" x2="1035.0" y2="36.0" stroke="#000" stroke-width="1.7" />
<line x1="990.4" y1="38.5" x2="1030.3" y2="59.2" stroke="#000" stroke-width="1.7" />
<line x1="988.9" y1="40.6" x2="1017.1" y2="78.1" stroke="#000" stroke-width="1.7" />
<line x1="986.9" y1="41.7" x2="1000.5" y2="88.3" stroke="#000" stroke-width="1.7" />
<line x1="984.8" y1="42.0" x2="983.3" y2="91.0" stroke="#000" stroke-width="1.7" />
<line x1="982.9" y1="41.6" x2="967.9" y2="87.7" stroke="#000" stroke-width="1.7" />
<path d="M985,8.5 A26,27.5 0 0 1 985,63.5" fill="none" stroke="#000" stroke-width="1.5" />
<text x="859" y="19" font-family="Liberation Sans" font-size="30" fill="#000" >D</text>
<rect x="1041.7" y="-5.0" width="19.1" height="66.7" rx="0" fill="#fff" stroke="#000" stroke-width="2" />
<line x1="1047.0" y1="-5.0" x2="1047.0" y2="61.0" stroke="#000" stroke-width="1.5" />
<line x1="1055.0" y1="-5.0" x2="1055.0" y2="61.0" stroke="#000" stroke-width="1.5" />
<line x1="1047.0" y1="22.0" x2="1055.0" y2="22.0" stroke="#000" stroke-width="1.2" />
<line x1="1047.0" y1="35.0" x2="1055.0" y2="35.0" stroke="#000" stroke-width="1.2" />
<rect x="1027" y="-20" width="50" height="23" rx="10" fill="#808080" stroke="#000" stroke-width="2"/>
<path d="M732,100 L732,65 A34,35 0 0 1 766,100 A34,35 0 0 1 800,65 L800,100" fill="none" stroke="#000" stroke-width="2.2" />
<path d="M732,-2 L732,12.5 A25.5,25.5 0 0 0 757.5,-2 M800,-2 L800,14.4 A29,29 0 0 1 771,-2" fill="none" stroke="#000" stroke-width="2.2" />
<rect x="721.0" y="100.0" width="90.0" height="8.5" rx="0" fill="#fbeed7" stroke="#000" stroke-width="2" />
<rect x="722.0" y="100.0" width="8.0" height="8.5" rx="0" fill="#222" stroke="none" stroke-width="0" />
<rect x="802.0" y="100.0" width="8.0" height="8.5" rx="0" fill="#222" stroke="none" stroke-width="0" />
<line x1="721.0" y1="109.0" x2="811.0" y2="109.0" stroke="#000" stroke-width="2.5" />
<text x="724.3" y="25" font-family="Liberation Sans" font-size="21" fill="#000" >KÄYT</text>
<polygon points="1038.9,104.0 1061.0,85.2 1249.0,306.0 1260.5,307.5 1260.5,325.5 1237.0,346.0 1201.0,303.0" fill="#808080" stroke="#000" stroke-width="2.5" stroke-linejoin="miter" />
<polygon points="1061.0,85.2 1110.3,143.1 1088.2,161.9 1038.9,104.0" fill="#fff" stroke="#000" stroke-width="2" stroke-linejoin="miter" />
<line x1="1057.6" y1="94.6" x2="1100.4" y2="144.9" stroke="#000" stroke-width="1.6" />
<line x1="1051.0" y1="100.3" x2="1093.8" y2="150.5" stroke="#000" stroke-width="1.6" />
<line x1="1057.6" y1="94.6" x2="1051.0" y2="100.3" stroke="#000" stroke-width="1.4" />
<line x1="1077.1" y1="117.5" x2="1070.4" y2="123.1" stroke="#000" stroke-width="1.4" />
<line x1="1081.0" y1="122.1" x2="1074.3" y2="127.7" stroke="#000" stroke-width="1.4" />
<line x1="1100.4" y1="144.9" x2="1093.8" y2="150.5" stroke="#000" stroke-width="1.4" />
<polygon points="1139.9,177.9 1158.8,200.0 1136.7,218.8 1117.8,196.7" fill="#fff" stroke="#000" stroke-width="2" stroke-linejoin="miter" />
<line x1="1136.5" y1="187.3" x2="1148.9" y2="201.9" stroke="#000" stroke-width="1.6" />
<line x1="1129.9" y1="192.9" x2="1142.3" y2="207.5" stroke="#000" stroke-width="1.6" />
<line x1="1136.5" y1="187.3" x2="1129.9" y2="192.9" stroke="#000" stroke-width="1.4" />
<line x1="1140.8" y1="192.3" x2="1134.1" y2="197.9" stroke="#000" stroke-width="1.4" />
<line x1="1144.6" y1="196.9" x2="1138.0" y2="202.5" stroke="#000" stroke-width="1.4" />
<line x1="1148.9" y1="201.9" x2="1142.3" y2="207.5" stroke="#000" stroke-width="1.4" />
<polygon points="1192.0,239.0 1226.0,279.0 1203.9,297.8 1169.9,257.8" fill="#fff" stroke="#000" stroke-width="2" stroke-linejoin="miter" />
<line x1="1188.6" y1="248.4" x2="1216.1" y2="280.8" stroke="#000" stroke-width="1.6" />
<line x1="1181.9" y1="254.1" x2="1209.5" y2="286.4" stroke="#000" stroke-width="1.6" />
<line x1="1188.6" y1="248.4" x2="1181.9" y2="254.1" stroke="#000" stroke-width="1.4" />
<line x1="1200.4" y1="262.3" x2="1193.8" y2="268.0" stroke="#000" stroke-width="1.4" />
<line x1="1204.3" y1="266.9" x2="1197.7" y2="272.6" stroke="#000" stroke-width="1.4" />
<line x1="1216.1" y1="280.8" x2="1209.5" y2="286.4" stroke="#000" stroke-width="1.4" />
<polygon points="811.0,329.0 945.0,329.0 945.0,295.0 974.0,294.0 1036.0,232.0 1148.0,232.0 1161.5,248.0 1116.0,248.0 1116.0,243.0 1058.0,243.0 986.0,318.0 986.0,415.0 811.0,415.0" fill="#808080" stroke="#000" stroke-width="2.5" stroke-linejoin="miter" />
<rect x="820.0" y="334.0" width="139.0" height="70.0" rx="0" fill="#e9f0f8" stroke="#000" stroke-width="2.5" />
<text x="874" y="370" font-family="Liberation Sans" font-size="22.5" fill="#000" >SÄH</text>
<rect x="820.0" y="297.5" width="125.0" height="30.0" rx="0" fill="#f7f9fc" stroke="#000" stroke-width="2.5" />
<path d="M826,325 L840,302 M855,300 L855,327 M860,312 L876,312" fill="none" stroke="#000" stroke-width="1.6" stroke-dasharray="4,3"/>
<rect x="882.0" y="301.0" width="27.0" height="20.0" rx="0" fill="#f7f9fc" stroke="#000" stroke-width="2.5" />
<line x1="911.0" y1="300.0" x2="911.0" y2="327.0" stroke="#000" stroke-width="1.6" stroke-dasharray="4,3"/>
<path d="M914,325 L941,301 M920,325 L940,308" fill="none" stroke="#000" stroke-width="1.6" stroke-dasharray="4,3"/>
<line x1="895.0" y1="315.0" x2="895.0" y2="321.0" stroke="#000" stroke-width="1.5" />
<line x1="822.0" y1="312.4" x2="943.0" y2="312.4" stroke="#000" stroke-width="1.5" stroke-dasharray="6,3,2,3"/>
<polygon points="1120.0,248.0 1161.5,248.0 1201.0,303.0 1237.0,346.0 1186.0,405.0 1120.0,405.0" fill="#e9f0f8" stroke="none" stroke-width="0" stroke-linejoin="miter" />
<polygon points="986.0,318.0 1046.0,254.0 1049.0,254.0 1049.0,405.0 986.0,405.0" fill="#fff" stroke="#000" stroke-width="2" stroke-linejoin="miter" />
<path d="M987,402 L1045,262 M1000,308 L1045,402" fill="none" stroke="#000" stroke-width="1.5" stroke-dasharray="8,3,2,3"/>
<path d="M1000,303 L1000,345 L986,345" fill="none" stroke="#000" stroke-width="1.6" />
<path d="M996,312 L1000,303 L1004,312" fill="none" stroke="#000" stroke-width="1.4" />
<polygon points="1049.0,254.0 1058.0,243.0 1116.0,243.0 1116.0,248.0 1120.0,248.0 1120.0,405.0 1049.0,405.0" fill="#e9f0f8" stroke="#000" stroke-width="2.5" stroke-linejoin="miter" />
<rect x="1049.0" y="298.0" width="71.0" height="4.0" rx="0" fill="#ddd" stroke="#000" stroke-width="1.5" stroke-dasharray="2,1"/>
<rect x="1049.0" y="351.0" width="71.0" height="4.0" rx="0" fill="#ddd" stroke="#000" stroke-width="1.5" stroke-dasharray="2,1"/>
<line x1="1051.0" y1="256.0" x2="1051.0" y2="403.0" stroke="#000" stroke-width="2" stroke-dasharray="2,1.5"/>
<rect x="1054.0" y="268.0" width="19.0" height="22.0" rx="4" fill="none" stroke="#000" stroke-width="2.5" />
<path d="M1058,280 L1066,280 M1063,277 L1066,280 L1063,283" fill="none" stroke="#000" stroke-width="1.6" />
<path d="M1058,316.0 L1072,316.0 Q1088,316.5 1088,325.5 Q1088,334.5 1072,335.0 L1058,335.0 Q1052,325.5 1058,316.0 Z" fill="none" stroke="#000" stroke-width="2.2" />
<line x1="1064.0" y1="316.0" x2="1064.0" y2="335.0" stroke="#000" stroke-width="1.6" />
<path d="M1058,372.5 L1072,372.5 Q1088,373 1088,382 Q1088,391 1072,391.5 L1058,391.5 Q1052,382 1058,372.5 Z" fill="none" stroke="#000" stroke-width="2.2" />
<line x1="1064.0" y1="372.5" x2="1064.0" y2="391.5" stroke="#000" stroke-width="1.6" />
<path d="M1087,330 L1097,340 M1087,377 L1097,367" fill="none" stroke="#000" stroke-width="1.6" />
<rect x="1094.0" y="337.0" width="19.0" height="13.0" rx="3" fill="none" stroke="#000" stroke-width="2.4" />
<rect x="1094.0" y="358.0" width="19.0" height="12.0" rx="3" fill="none" stroke="#000" stroke-width="2.4" />
<rect x="1101.0" y="340.0" width="5.0" height="7.0" rx="0" fill="#000" stroke="none" stroke-width="0" />
<rect x="1101.0" y="361.0" width="5.0" height="6.0" rx="0" fill="#000" stroke="none" stroke-width="0" />
<text x="1090" y="328" font-family="Liberation Sans" font-size="18" fill="#000" >WC</text>
<text x="1090" y="393" font-family="Liberation Sans" font-size="18" fill="#000" >WC</text>
<text x="1094" y="273" font-family="Liberation Sans" font-size="18" fill="#000" >SK</text>
<rect x="1117.0" y="248.0" width="7.0" height="15.0" rx="0" fill="#ddd" stroke="#000" stroke-width="1.5" />
<path d="M1122,264 A36,38 0 0 1 1158,297 L1122,297" fill="none" stroke="#000" stroke-width="2.2" />
<path d="M1124,307 A38,38 0 0 1 1160,345 L1124,345" fill="none" stroke="#000" stroke-width="2.2" />
<path d="M1124,397 A38,38 0 0 0 1162,361 L1124,361" fill="none" stroke="#000" stroke-width="2.2" />
<line x1="1121.0" y1="302.0" x2="1121.0" y2="402.0" stroke="#000" stroke-width="3.5" />
<polygon points="1237.0,346.0 1242.0,351.0 1190.0,410.0 1184.0,405.0" fill="#808080" stroke="#000" stroke-width="2" stroke-linejoin="miter" />
<line x1="1201.0" y1="303.0" x2="1187.0" y2="402.0" stroke="#000" stroke-width="2" />
<text x="1144" y="343" font-family="Liberation Sans" font-size="18" fill="#000" >ETUH</text>
<circle cx="1211" cy="343" r="11.5" fill="none" stroke="#000" stroke-width="2"/>
<path d="M1203,344 L1213,344 M1206,341 L1203,344 L1206,347" fill="none" stroke="#000" stroke-width="1.6" />
<rect x="1049.0" y="405.0" width="41.0" height="4.0" rx="0" fill="#ddd" stroke="#000" stroke-width="1.2" />
<rect x="1090.0" y="400.0" width="50.0" height="8.0" rx="0" fill="#808080" stroke="#000" stroke-width="2" />
<line x1="986.0" y1="405.0" x2="1049.0" y2="405.0" stroke="#000" stroke-width="2" />
<line x1="986.0" y1="409.0" x2="1049.0" y2="409.0" stroke="#000" stroke-width="1.5" />
<line x1="1140.0" y1="407.0" x2="1186.0" y2="407.0" stroke="#000" stroke-width="2" />
<path d="M989,409 A41,41 0 0 0 1030,450 L1030,409" fill="none" stroke="#000" stroke-width="2.2" />
<path d="M1141,409 A40,40 0 0 0 1160,438 L1180,409" fill="none" stroke="#000" stroke-width="2.2" />
<rect x="877.5" y="404.0" width="47.5" height="11.0" rx="0" fill="#fff" stroke="#000" stroke-width="2" />
<path d="M883,415 L886,433 L925,415" fill="none" stroke="#000" stroke-width="2" />
<path d="M883,415 A45,45 0 0 0 886,433" fill="none" stroke="#000" stroke-width="2" />
<polygon points="812.0,466.0 1016.0,463.0 1016.0,491.0 812.0,494.0" fill="#808080" stroke="#000" stroke-width="2.5" stroke-linejoin="miter" />
<polygon points="746.4,552.0 761.0,537.3 777.6,550.0 764.8,565.0 764.8,721.0 746.4,721.0" fill="#808080" stroke="#000" stroke-width="2.5" stroke-linejoin="miter" />
<rect x="746.4" y="810.0" width="18.4" height="59.0" rx="0" fill="#808080" stroke="#000" stroke-width="2.5" />
<rect x="750.0" y="721.0" width="10.0" height="89.0" rx="0" fill="#fff" stroke="#000" stroke-width="2" />
<line x1="755.0" y1="723.0" x2="755.0" y2="808.0" stroke="#777" stroke-width="2" stroke-dasharray="2,2"/>
<line x1="749.0" y1="680.0" x2="749.0" y2="720.0" stroke="#000" stroke-width="3" />
<rect x="737.0" y="642.0" width="9.4" height="20.0" rx="0" fill="#808080" stroke="#000" stroke-width="2.5" />
<line x1="686.0" y1="554.0" x2="746.4" y2="554.0" stroke="#000" stroke-width="2.5" />
<line x1="686.0" y1="557.0" x2="746.4" y2="557.0" stroke="#000" stroke-width="1.2" />
<path d="M697,557 A49,49 0 0 0 746,605" fill="none" stroke="#000" stroke-width="2.2" />
<line x1="686.0" y1="648.0" x2="738.0" y2="648.0" stroke="#000" stroke-width="2.5" />
<line x1="686.0" y1="652.0" x2="738.0" y2="652.0" stroke="#000" stroke-width="1.2" />
<path d="M690,648 L730,622 A30,30 0 0 1 734,648" fill="none" stroke="#000" stroke-width="2.2" />
<line x1="681.0" y1="352.8" x2="681.0" y2="403.4" stroke="#000" stroke-width="2" />
<line x1="686.0" y1="352.8" x2="686.0" y2="403.4" stroke="#000" stroke-width="2" />
<path d="M686,357 L708,394 A36,36 0 0 1 686,400" fill="none" stroke="#000" stroke-width="2.2" />
<line x1="681.0" y1="491.5" x2="681.0" y2="539.0" stroke="#000" stroke-width="2" />
<line x1="686.0" y1="491.5" x2="686.0" y2="539.0" stroke="#000" stroke-width="2" />
<path d="M686,495 L706,530 A36,36 0 0 1 686,536" fill="none" stroke="#000" stroke-width="2.2" />
<rect x="444.5" y="646.5" width="50.5" height="5.0" rx="0" fill="#fff" stroke="#000" stroke-width="1.8" />
<line x1="444.5" y1="653.8" x2="495.0" y2="653.8" stroke="#000" stroke-width="2.8" />
<path d="M448,648 L453,625 L494,645" fill="none" stroke="#000" stroke-width="2.2" />
<path d="M448,648 A22,22 0 0 1 453,625" fill="none" stroke="#000" stroke-width="2" />
<line x1="442.2" y1="712.0" x2="442.2" y2="837.0" stroke="#000" stroke-width="3" />
<rect x="430.0" y="826.0" width="12.5" height="11.5" rx="0" fill="#fff" stroke="#000" stroke-width="2" />
<line x1="433.0" y1="837.0" x2="433.0" y2="867.0" stroke="#000" stroke-width="1.8" />
<line x1="438.0" y1="837.0" x2="438.0" y2="867.0" stroke="#000" stroke-width="1.8" />
<path d="M688,648 L733,625" fill="none" stroke="#000" stroke-width="2" />
<polygon points="1051.6,549.6 1172.4,549.6 1172.4,576.0 1076.8,576.0 1076.8,731.0 1059.0,731.0 1059.0,563.0 1051.6,563.0" fill="#808080" stroke="#000" stroke-width="2.5" stroke-linejoin="miter" />
<rect x="1059.0" y="799.0" width="17.8" height="70.0" rx="0" fill="#808080" stroke="#000" stroke-width="2.5" />
<rect x="1060.0" y="731.0" width="8.0" height="68.0" rx="0" fill="#fff" stroke="#000" stroke-width="2" />
<path d="M1068,733 L1082,755 L1068,765 L1082,777 L1068,797" fill="none" stroke="#000" stroke-width="2" />
<polygon points="1078.0,577.0 1117.0,577.0 1135.0,592.0 1092.5,634.5 1078.0,622.0" fill="#b9c0c7" stroke="#5c6166" stroke-width="4" stroke-linejoin="miter" />
<rect x="1172.4" y="551.0" width="46.6" height="25.0" rx="0" fill="#e9f0f8" stroke="none" stroke-width="0" />
<line x1="1172.4" y1="551.0" x2="1219.0" y2="551.0" stroke="#000" stroke-width="2" />
<line x1="1172.4" y1="556.0" x2="1219.0" y2="556.0" stroke="#000" stroke-width="1.5" />
<path d="M1176,551 L1213,535 A20,20 0 0 1 1216,551" fill="none" stroke="#000" stroke-width="2.2" />
<polygon points="1219.0,549.6 1366.6,549.6 1377.6,558.0 1397.0,558.0 1397.0,576.0 1219.0,576.0" fill="#808080" stroke="#000" stroke-width="2.5" stroke-linejoin="miter" />
<polygon points="1444.0,558.0 1600.0,558.0 1600.0,576.0 1444.0,576.0" fill="#808080" stroke="#000" stroke-width="2.5" stroke-linejoin="miter" />
<rect x="1396.0" y="558.0" width="49.0" height="18.0" rx="0" fill="#808080" stroke="#000" stroke-width="2.5" />
<rect x="1397.5" y="560.5" width="46.0" height="5.3" rx="0" fill="#fff" stroke="#000" stroke-width="1.6" />
<rect x="1397.5" y="567.3" width="46.0" height="4.7" rx="0" fill="#fff" stroke="#000" stroke-width="1.6" />
<path d="M1398,558 A30,30 0 0 1 1404,539 L1441,559" fill="none" stroke="#000" stroke-width="2.2" />
<path d="M1400,576 A45,45 0 0 0 1443,616 L1443,576" fill="none" stroke="#000" stroke-width="2.2" />
<rect x="1337.0" y="575.0" width="4.0" height="294.0" rx="0" fill="#000" stroke="none" stroke-width="0" />
<polygon points="1326.0,306.0 1341.0,306.0 1341.0,280.0 1367.0,280.0 1367.0,356.0 1339.0,356.0 1339.0,336.0 1326.7,324.0" fill="#808080" stroke="#000" stroke-width="2.5" stroke-linejoin="miter" />
<rect x="1262.0" y="313.7" width="63.8" height="10.6" rx="0" fill="#fff" stroke="#000" stroke-width="2.5" />
<line x1="1262.0" y1="306.0" x2="1262.0" y2="326.0" stroke="#000" stroke-width="4" />
<line x1="1325.8" y1="306.0" x2="1325.8" y2="326.0" stroke="#000" stroke-width="4" />
<path d="M1266,313 L1290,300 L1294,313 M1322,313 L1297,300 L1294,313" fill="none" stroke="#000" stroke-width="2" />
<path d="M1266,325 L1290,338 L1294,325 M1322,325 L1297,338 L1294,325" fill="none" stroke="#000" stroke-width="2" />
<line x1="1187.0" y1="231.0" x2="1339.0" y2="226.0" stroke="#000" stroke-width="1.8" />
<line x1="1187.0" y1="237.0" x2="1339.0" y2="232.0" stroke="#000" stroke-width="1.8" />
<path d="M1340,357 L1340,183 Q1341,152 1352.5,135 L1395.6,90 Q1428,79 1465,77.4 L1527,75.7 L1537.7,75.7 L1537.7,69.3 L1600,69.3 L1600,147.4 L1597.5,147.4 L1597.5,883 L1537,883 L1537,356 L1367,356 Z" fill="#808080" stroke="#000" stroke-width="2.5" />
<polygon points="1567.0,69.3 1601.0,69.3 1601.0,147.4 1596.5,147.4 1567.0,113.4" fill="#fff" stroke="#000" stroke-width="2" stroke-linejoin="miter" />
<rect x="1582.0" y="127.0" width="19.0" height="20.0" rx="0" fill="#fbe9ea" stroke="none" stroke-width="0" />
<rect x="1465.0" y="77.0" width="62.0" height="25.4" rx="0" fill="#fff" stroke="#000" stroke-width="2" />
<line x1="1465.0" y1="90.0" x2="1527.0" y2="89.0" stroke="#000" stroke-width="2" />
<polygon points="1352.5,135.0 1395.6,90.0 1412.5,109.7 1371.0,152.0" fill="#fff" stroke="#000" stroke-width="2" stroke-linejoin="miter" />
<line x1="1360.0" y1="140.6" x2="1399.4" y2="97.5" stroke="#000" stroke-width="1.6" />
<path d="M1367,357 L1367,157.5 L1412.5,109.7 Q1435,104 1463,103.6 L1537,103.6 L1537,440 L1493,458.5 L1414.8,460.4 L1366.6,439.8 L1367,423.6 Z" fill="#eecd8a" stroke="#000" stroke-width="2.5" />
<line x1="1367.0" y1="182.4" x2="1443.8" y2="182.4" stroke="#000" stroke-width="1.8" />
<line x1="1367.0" y1="198.0" x2="1443.8" y2="198.0" stroke="#000" stroke-width="1.8" />
<line x1="1367.0" y1="213.6" x2="1443.8" y2="213.6" stroke="#000" stroke-width="1.8" />
<line x1="1367.0" y1="229.2" x2="1443.8" y2="229.2" stroke="#000" stroke-width="1.8" />
<line x1="1367.0" y1="244.8" x2="1443.8" y2="244.8" stroke="#000" stroke-width="1.8" />
<line x1="1367.0" y1="260.4" x2="1443.8" y2="260.4" stroke="#000" stroke-width="1.8" />
<line x1="1367.0" y1="276.0" x2="1443.8" y2="276.0" stroke="#000" stroke-width="1.8" />
<line x1="1367.0" y1="291.6" x2="1443.8" y2="291.6" stroke="#000" stroke-width="1.8" />
<line x1="1367.0" y1="307.2" x2="1443.8" y2="307.2" stroke="#000" stroke-width="1.8" />
<line x1="1367.0" y1="322.8" x2="1443.8" y2="322.8" stroke="#000" stroke-width="1.8" />
<line x1="1367.0" y1="324.0" x2="1443.8" y2="324.0" stroke="#000" stroke-width="1.8" />
<line x1="1403.0" y1="182.4" x2="1403.0" y2="324.0" stroke="#000" stroke-width="1.8" />
<line x1="1443.8" y1="182.0" x2="1443.8" y2="324.0" stroke="#000" stroke-width="2.2" />
<line x1="1448.0" y1="182.0" x2="1448.0" y2="324.0" stroke="#000" stroke-width="1.2" />
<line x1="1463.0" y1="182.4" x2="1537.0" y2="182.4" stroke="#000" stroke-width="1.8" />
<line x1="1463.0" y1="198.0" x2="1537.0" y2="198.0" stroke="#000" stroke-width="1.8" />
<line x1="1463.0" y1="213.6" x2="1537.0" y2="213.6" stroke="#000" stroke-width="1.8" />
<line x1="1463.0" y1="229.2" x2="1537.0" y2="229.2" stroke="#000" stroke-width="1.8" />
<line x1="1463.0" y1="244.8" x2="1537.0" y2="244.8" stroke="#000" stroke-width="1.8" />
<line x1="1463.0" y1="260.4" x2="1537.0" y2="260.4" stroke="#000" stroke-width="1.8" />
<line x1="1463.0" y1="276.0" x2="1537.0" y2="276.0" stroke="#000" stroke-width="1.8" />
<line x1="1463.0" y1="291.6" x2="1537.0" y2="291.6" stroke="#000" stroke-width="1.8" />
<line x1="1463.0" y1="307.2" x2="1537.0" y2="307.2" stroke="#000" stroke-width="1.8" />
<line x1="1463.0" y1="322.8" x2="1537.0" y2="322.8" stroke="#000" stroke-width="1.8" />
<line x1="1463.0" y1="324.0" x2="1537.0" y2="324.0" stroke="#000" stroke-width="1.8" />
<line x1="1500.0" y1="182.4" x2="1500.0" y2="324.0" stroke="#000" stroke-width="1.8" />
<line x1="1446.0" y1="178.0" x2="1367.5" y2="157.5" stroke="#000" stroke-width="1.7" />
<line x1="1446.0" y1="178.0" x2="1388.0" y2="132.0" stroke="#000" stroke-width="1.7" />
<line x1="1446.0" y1="178.0" x2="1410.0" y2="114.0" stroke="#000" stroke-width="1.7" />
<line x1="1446.0" y1="178.0" x2="1436.0" y2="105.0" stroke="#000" stroke-width="1.7" />
<line x1="1446.0" y1="178.0" x2="1463.0" y2="104.0" stroke="#000" stroke-width="1.7" />
<line x1="1436.0" y1="105.0" x2="1457.0" y2="139.0" stroke="#000" stroke-width="1.5" />
<path d="M1403,182 A49,49 0 0 1 1452,133" fill="none" stroke="#000" stroke-width="1.6" />
<path d="M1443,184 Q1443,178 1452,178 Q1461,178 1461,184" fill="none" stroke="#000" stroke-width="1.8" />
<path d="M1459,182 L1459,322 L1452,335 L1506,388 L1537,357" fill="none" stroke="#000" stroke-width="2.2" />
<path d="M1463,182 L1463,324 L1456,334" fill="none" stroke="#000" stroke-width="1.2" />
<line x1="1462.0" y1="330.0" x2="1537.0" y2="348.0" stroke="#000" stroke-width="1.7" />
<line x1="1455.0" y1="336.0" x2="1523.6" y2="368.6" stroke="#000" stroke-width="1.7" />
<line x1="1455.0" y1="336.0" x2="1481.0" y2="363.6" stroke="#000" stroke-width="1.7" />
<line x1="1481.0" y1="363.6" x2="1523.6" y2="368.6" stroke="#000" stroke-width="1.7" />
<path d="M1500,324 Q1500,350 1481,363" fill="none" stroke="#000" stroke-width="1.6" />
<path d="M1367,254 L1443,225 M1367,261 L1443,233" fill="none" stroke="#000" stroke-width="1.4" stroke-dasharray="10,4"/>
<text x="1416.5" y="415.5" font-family="Liberation Sans" font-size="38.5" fill="#000" >C</text>
<rect x="1340.0" y="356.0" width="16.0" height="67.6" rx="0" fill="#e3ecf6" stroke="none" stroke-width="0" />
<rect x="1356.0" y="357.0" width="6.0" height="66.0" rx="0" fill="#fff" stroke="#000" stroke-width="2" />
<path d="M1362,360 L1385,383 L1362,420 M1362,360 L1366,368 L1372,369" fill="none" stroke="#000" stroke-width="2" />
<polygon points="1341.0,423.6 1368.0,423.6 1368.0,439.8 1414.8,460.4 1426.0,460.4 1426.0,485.2 1405.0,485.2 1340.4,448.0" fill="#808080" stroke="#000" stroke-width="2.5" stroke-linejoin="miter" />
<polygon points="1475.0,460.4 1493.0,458.5 1507.0,457.0 1507.0,576.0 1488.0,576.0 1488.0,485.2 1475.0,485.2" fill="#808080" stroke="#000" stroke-width="2.5" stroke-linejoin="miter" />
<rect x="1426.0" y="460.4" width="49.0" height="24.8" rx="0" fill="#fff" stroke="none" stroke-width="0" />
<line x1="1426.0" y1="474.0" x2="1475.0" y2="474.0" stroke="#000" stroke-width="2" />
<line x1="1426.0" y1="480.0" x2="1475.0" y2="480.0" stroke="#000" stroke-width="1.5" />
<path d="M1429,474 L1464,444 A30,30 0 0 1 1472,474" fill="none" stroke="#000" stroke-width="2.2" />
<rect x="1489.0" y="502.0" width="10.0" height="42.5" rx="0" fill="#fff" stroke="#000" stroke-width="2" />
<polygon points="1544.7,456.9 1575.7,456.9 1575.7,559.5 1506.9,559.5 1506.9,483.7 1504.8,477.5" fill="#ede47a" stroke="#000" stroke-width="2.5" stroke-linejoin="miter" />
<line x1="1506.9" y1="482.3" x2="1575.0" y2="558.8" stroke="#000" stroke-width="2" />
<line x1="1507.5" y1="558.0" x2="1575.0" y2="456.9" stroke="#000" stroke-width="2" />
<text x="1545" y="521.6" font-family="Liberation Sans" font-size="21" fill="#000" >H3</text>
<rect x="1445.5" y="561.0" width="150.7" height="13.7" rx="0" fill="#808080" stroke="none" stroke-width="0" />
<polygon points="1494.5,458.9 1535.8,439.0 1544.7,456.2 1504.8,477.5" fill="#fff" stroke="#000" stroke-width="2.2" stroke-linejoin="miter" />
<polygon points="1568.0,577.0 1597.5,577.0 1597.5,826.0 1568.0,796.5" fill="#fff" stroke="#000" stroke-width="2" stroke-linejoin="miter" />
<line x1="1568.0" y1="560.0" x2="1568.0" y2="577.0" stroke="#000" stroke-width="1" />
<polygon points="1535.0,837.0 1535.0,869.0 1498.0,869.0" fill="#808080" stroke="none" stroke-width="0" stroke-linejoin="miter" />
<line x1="1535.0" y1="837.0" x2="1498.0" y2="869.0" stroke="#000" stroke-width="2.5" />
<polygon points="965.0,869.0 1069.8,869.0 1157.0,924.0 1153.8,959.0 1060.0,901.0 965.0,901.0" fill="#808080" stroke="#000" stroke-width="2.5" stroke-linejoin="miter" />
<polygon points="1269.0,924.0 1339.0,880.0 1341.0,869.0 1537.0,869.0 1537.0,902.0 1369.0,902.0 1278.0,959.0" fill="#808080" stroke="#000" stroke-width="2.5" stroke-linejoin="miter" />
<polygon points="1477.0,870.7 1498.0,870.7 1536.0,838.0 1536.0,820.0 1595.3,820.0 1595.3,881.8 1535.8,881.8 1535.8,900.8 1477.0,900.8" fill="#808080" stroke="none" stroke-width="0" stroke-linejoin="miter" />
<polygon points="1568.0,577.0 1597.5,577.0 1597.5,826.0 1568.0,796.5" fill="#fff" stroke="#000" stroke-width="2" stroke-linejoin="miter" />
<line x1="1535.0" y1="837.0" x2="1498.0" y2="869.0" stroke="#000" stroke-width="2.5" />
<line x1="1597.5" y1="576.0" x2="1597.5" y2="884.0" stroke="#000" stroke-width="2.5" />
<line x1="1598.7" y1="883.0" x2="1536.0" y2="883.0" stroke="#000" stroke-width="2.5" />
<line x1="1537.0" y1="882.0" x2="1537.0" y2="903.0" stroke="#000" stroke-width="2.5" />
<polygon points="625.0,920.0 695.0,869.0 820.0,869.0 820.0,901.0 726.0,901.0 626.0,957.0" fill="#808080" stroke="#000" stroke-width="2.5" stroke-linejoin="miter" />
<rect x="747.7" y="864.0" width="15.8" height="6.4" rx="0" fill="#808080" stroke="none" stroke-width="0" />
<rect x="1060.3" y="864.0" width="15.2" height="6.4" rx="0" fill="#808080" stroke="none" stroke-width="0" />
<polygon points="510.0,920.0 625.0,920.0 625.0,957.0 510.0,957.0" fill="#fff" stroke="#000" stroke-width="2" stroke-linejoin="miter" />
<path d="M513,930 L542.5,943 L592.5,943 L622,930" fill="none" stroke="#000" stroke-width="1.8" />
<path d="M513,937 L542.5,950 L592.5,950 L622,937" fill="none" stroke="#000" stroke-width="1.8" />
<polygon points="1157.0,924.0 1269.0,924.0 1269.0,959.0 1157.0,959.0" fill="#fff" stroke="#000" stroke-width="2" stroke-linejoin="miter" />
<path d="M1160,934 L1188.0,945 L1238.0,945 L1266,934" fill="none" stroke="#000" stroke-width="1.8" />
<path d="M1160,941 L1188.0,952 L1238.0,952 L1266,941" fill="none" stroke="#000" stroke-width="1.8" />
<rect x="820.0" y="869.0" width="145.0" height="32.0" rx="0" fill="#fff" stroke="#000" stroke-width="2" />
<path d="M823,878 L860,892 L925,892 L962,878" fill="none" stroke="#000" stroke-width="1.8" />
<path d="M823,884 L860,898 L925,898 L962,884" fill="none" stroke="#000" stroke-width="1.5" />
<line x1="835.0" y1="880.0" x2="955.0" y2="880.0" stroke="#000" stroke-width="1.5" stroke-dasharray="9,7"/>
<rect x="1400.5" y="869.0" width="77.0" height="33.0" rx="0" fill="#fff" stroke="#000" stroke-width="2" />
<line x1="1402.0" y1="886.0" x2="1476.0" y2="886.0" stroke="#000" stroke-width="1.8" />
<line x1="1402.0" y1="893.0" x2="1476.0" y2="893.0" stroke="#000" stroke-width="1.6" />
<line x1="1439.0" y1="886.0" x2="1439.0" y2="893.0" stroke="#000" stroke-width="1.5" />
<text x="484.2" y="750" font-family="Liberation Sans" font-size="22.4" fill="#000" >NEUV. 12h</text>
<text x="383.5" y="526" font-family="Liberation Sans" font-size="22" fill="#000" >TSTO</text>
<text x="822" y="239" font-family="Liberation Sans" font-size="22" fill="#000" >TAUKOTILA</text>
<text x="1242.6" y="426" font-family="Liberation Sans" font-size="21.7" fill="#000" >AULA</text>
<text x="824.7" y="174.4" font-family="Liberation Sans" font-size="14.9" fill="#000" font-style="italic">Tulostus/kopio</text>
<text transform="translate(741,279) rotate(-90)" font-family="Liberation Sans" font-size="14.6" font-style="italic" text-anchor="middle" x="0" y="0" dy="0">Naulakko</text>
<text transform="translate(773.5,410) rotate(-90)" font-family="Liberation Sans" font-size="22.3" x="0" y="0">KÄYTÄVÄ</text>
<rect x="822.0" y="129.0" width="42.0" height="32.2" rx="0" fill="#f7f9fc" stroke="#000" stroke-width="2.5" />
<rect x="864.0" y="129.0" width="65.7" height="32.2" rx="0" fill="none" stroke="#000" stroke-width="2.5" stroke-dasharray="5,3"/>
<path d="M866,160 L897,140.6 L896,150 L929.7,129.4" fill="none" stroke="#000" stroke-width="2.4" stroke-dasharray="6,3"/>
<rect x="694.0" y="195.0" width="20.0" height="147.5" rx="0" fill="#dfe2e6" stroke="#000" stroke-width="1.8" stroke-dasharray="8,3,2,3"/>
<rect x="669.0" y="242.5" width="25.0" height="50.0" rx="0" fill="#fff" stroke="none" stroke-width="0" />
<line x1="669.0" y1="242.5" x2="694.0" y2="242.5" stroke="#000" stroke-width="2.5" />
<line x1="669.0" y1="292.5" x2="694.0" y2="292.5" stroke="#000" stroke-width="2.5" />
<line x1="670.0" y1="244.0" x2="670.0" y2="291.0" stroke="#000" stroke-width="1.5" stroke-dasharray="8,3,2,3"/>
<text x="9.4" y="44.5" font-family="Liberation Sans" font-size="37.5" fill="#000" >KÄYTÄVÄ B</text>
<text x="11.3" y="81.5" font-family="Liberation Sans" font-size="37" fill="#000" >4,5 m2</text>
<text x="773.7" y="1044" font-family="Liberation Sans" font-size="36.2" fill="#000" >TOIMISTO B1</text>
<text x="773.5" y="1080.5" font-family="Liberation Sans" font-size="37" fill="#000" >259,5 m2</text>
<text transform="translate(182.5,407.4) rotate(-90)" font-family="Liberation Serif" font-size="39.5" x="0" y="0">YRJÖNKATU</text>
<text x="1453" y="1011.5" font-family="Liberation Sans" font-size="35.5" fill="#000" stroke="#fff" stroke-width="0.45">B-OSA</text>
<text x="1386.3" y="1071" font-family="Liberation Sans" font-size="34.5" fill="#000" stroke="#fff" stroke-width="0.45">2. KERROS</text>
<line x1="1325.0" y1="1025.5" x2="1600.0" y2="1025.5" stroke="#000" stroke-width="2.2" />
<path d="M1348,1004.5 L1326,1025.5 L1348,1047" fill="none" stroke="#000" stroke-width="3" stroke-linecap="round" stroke-linejoin="round"/>
<rect x="62.0" y="1034.0" width="309.0" height="55.0" rx="0" fill="#fffffb" stroke="none" stroke-width="0" />
<path d="M179,1089 C195,1066 215,1054 240,1054 C265,1054 285,1068 297,1090 L269,1090 C266,1076 262,1064 250,1061.5 C247,1060.8 243,1060.5 240,1060.5 C218,1061 200,1072 187,1090 Z" fill="#e9977a" stroke="none" stroke-width="0" />
</svg></body></html>
